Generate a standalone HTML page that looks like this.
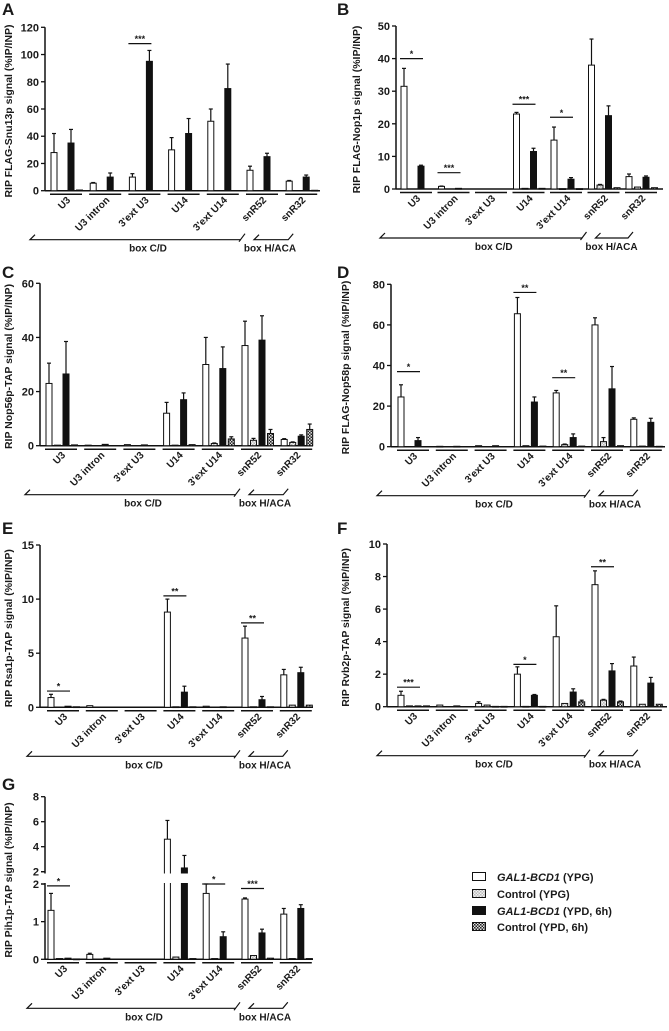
<!DOCTYPE html>
<html><head><meta charset="utf-8"><style>
html,body{margin:0;padding:0;background:#fff}
svg text{font-family:"Liberation Sans",Arial,sans-serif;fill:#1a1a1a}
</style></head><body>
<svg id="fig" width="669" height="1026" viewBox="0 0 669 1026" xmlns="http://www.w3.org/2000/svg">
<defs>
<pattern id="pLight" width="3" height="3" patternUnits="userSpaceOnUse"><rect width="3" height="3" fill="#f2f2f2"/><rect width="1.5" height="1.5" fill="#bbb"/><rect x="1.5" y="1.5" width="1.5" height="1.5" fill="#bbb"/></pattern>
<pattern id="pDark" width="3" height="3" patternUnits="userSpaceOnUse"><rect width="3" height="3" fill="#ddd"/><rect width="1.5" height="1.5" fill="#222"/><rect x="1.5" y="1.5" width="1.5" height="1.5" fill="#222"/></pattern>
</defs>
<g id="legend">
<g><rect x="472.5" y="872.5" width="13" height="8" fill="#fff" stroke="#111"/><text x="497" y="881" font-size="11" font-weight="bold"><tspan font-style="italic">GAL1-BCD1</tspan> (YPG)</text></g>
<g><rect x="472.5" y="889.5" width="13" height="8" fill="url(#pLight)" stroke="#111"/><text x="497" y="898" font-size="11" font-weight="bold">Control (YPG)</text></g>
<g><rect x="472.5" y="906.5" width="13" height="8" fill="#111" stroke="#111"/><text x="497" y="915" font-size="11" font-weight="bold"><tspan font-style="italic">GAL1-BCD1</tspan> (YPD, 6h)</text></g>
<g><rect x="472.5" y="922.5" width="13" height="8" fill="url(#pDark)" stroke="#111"/><text x="497" y="931" font-size="11" font-weight="bold">Control (YPD, 6h)</text></g>
</g>
</svg>
<script>
const categories=["U3","U3 intron","3'ext U3","U14","3'ext U14","snR52","snR32"];
const seriesNames=["gal1-ypg","control-ypg","gal1-ypd","control-ypd"];

const valuesA=[[28,0,35,0.5],[5.5,0,10,0],[10,0,95,0],[30,0,42,0],[51,0,75,0],[15,0,25,0],[7,0,10,0.3]];
const errorsA=[[14,0,10,0],[0.5,0,3,0],[2.5,0,8,0],[9,0,11,0],[9,0,18,0],[3,0,2.5,0],[0.5,0,1.5,0]];
const ticksA=[0,20,40,60,80,100,120];
const sigA=[[2,"***",108]];

const valuesB=[[31.5,0,7,0],[0.8,0,0.2,0],[0,0,0,0],[23,0.2,11.5,0.2],[15,0.1,3,0.1],[38,1.2,22.5,0.4],[3.8,0.6,3.6,0.4]];
const errorsB=[[5.5,0,0.3,0],[0.1,0,0,0],[0,0,0,0],[0.5,0,1,0],[4,0,0.5,0],[8,0.2,3,0],[0.8,0,0.4,0]];
const ticksB=[0,10,20,30,40,50];
const sigB=[[0,"*",40],[1,"***",5],[3,"***",26],[4,"*",22]];

const valuesC=[[23,0.2,26.5,0.3],[0.2,0,0.5,0],[0.4,0,0.3,0],[12,0.2,17,0.4],[30,0.8,28.5,2.5],[37,2,39,4.5],[2.3,1.2,3.5,6]];
const errorsC=[[7.5,0,12,0],[0,0,0,0],[0,0,0,0],[4,0,2.5,0],[10,0.2,8,0.8],[9,0.7,9,1.5],[0.3,0.2,0.5,2]];
const ticksC=[0,20,40,60];
const sigC=[];

const valuesD=[[24.5,0,3,0],[0.2,0,0.2,0],[0.5,0,0.5,0],[65.5,0.5,22,0.3],[26.5,1,4.5,0.3],[60,2.5,28.5,0.5],[13.5,0.3,12,0.2]];
const errorsD=[[6,0,1.5,0],[0,0,0,0],[0,0,0,0],[8,0,2.5,0],[1.2,0.3,1.8,0],[3.5,2,11,0],[0.7,0,2,0]];
const ticksD=[0,20,40,60,80];
const sigD=[[0,"*",37],[3,"**",76],[4,"**",34]];

const valuesE=[[0.9,0,0.1,0.05],[0.15,0,0,0],[0,0,0,0],[8.8,0.05,1.4,0.05],[0.1,0,0.05,0],[6.4,0.05,0.7,0.05],[3,0.2,3.2,0.2]];
const errorsE=[[0.3,0,0,0],[0,0,0,0],[0,0,0,0],[1.2,0,0.55,0],[0,0,0,0],[1.1,0,0.3,0],[0.5,0,0.5,0]];
const ticksE=[0,5,10,15];
const sigE=[[0,"*",1.5],[3,"**",10.3],[5,"**",7.8]];

const valuesF=[[0.7,0.05,0.05,0.05],[0.1,0,0.05,0],[0.2,0.1,0.02,0.02],[2,0.02,0.7,0.02],[4.3,0.2,0.9,0.3],[7.5,0.4,2.2,0.3],[2.5,0.15,1.45,0.15]];
const errorsF=[[0.25,0,0,0],[0,0,0,0],[0.1,0,0,0],[0.45,0,0.05,0],[1.9,0,0.2,0.1],[0.85,0.05,0.45,0.05],[0.55,0,0.35,0]];
const ticksF=[0,2,4,6,8,10];
const sigF=[[0,"***",1.2],[3,"*",2.6],[5,"**",8.6]];

const valuesG=[[1.3,0.02,0.03,0.01],[0.13,0,0.03,0],[0,0,0,0],[4.6,0.06,2.3,0.02],[1.75,0.02,0.6,0],[1.6,0.1,0.7,0.03],[1.2,0.02,1.35,0.02]];
const errorsG=[[0.45,0,0,0],[0.03,0,0,0],[0,0,0,0],[1.5,0,1,0],[0.25,0,0.13,0],[0.03,0,0.1,0],[0.15,0,0.1,0]];
const ticksGLow=[0,1,2];
const ticksGHigh=[2,4,6,8];
const sigG=[[0,"*",1.95],[4,"*",2.0],[5,"***",1.88]];

const NS="http://www.w3.org/2000/svg";
const svg=document.getElementById('fig');
function mk(tag,attrs,parent){const e=document.createElementNS(NS,tag);for(const k in attrs)e.setAttribute(k,attrs[k]);(parent||svg).appendChild(e);return e;}
const fills=["#fff","url(#pLight)","#111","url(#pDark)"];

const panels=[
 {id:"A",lx:2,ly:15,ax:45,zero:190.7,top:27.3,max:120,g0:50,step:39.2,end:320,tx:12,title:"RIP FLAG-Snu13p signal (%IP/INP)",vals:valuesA,errs:errorsA,ticks:ticksA,sig:sigA},
 {id:"B",lx:337,ly:15,ax:396,zero:189,top:26,max:50,g0:400,step:37.5,end:663,tx:360,title:"RIP FLAG-Nop1p signal (%IP/INP)",vals:valuesB,errs:errorsB,ticks:ticksB,sig:sigB},
 {id:"C",lx:2,ly:278,ax:40,zero:445.7,top:283.3,max:60,g0:45,step:39.2,end:313,tx:12,title:"RIP Nop56p-TAP signal (%IP/INP)",vals:valuesC,errs:errorsC,ticks:ticksC,sig:sigC},
 {id:"D",lx:337,ly:278,ax:391,zero:446.7,top:284.3,max:80,g0:397,step:38.8,end:665,tx:349,title:"RIP FLAG-Nop58p signal (%IP/INP)",vals:valuesD,errs:errorsD,ticks:ticksD,sig:sigD},
 {id:"E",lx:2,ly:534,ax:40,zero:707.3,top:545,max:15,g0:47,step:38.8,end:313,tx:12,title:"RIP Rsa1p-TAP signal (%IP/INP)",vals:valuesE,errs:errorsE,ticks:ticksE,sig:sigE},
 {id:"F",lx:337,ly:534,ax:387,zero:706.7,top:544,max:10,g0:397,step:38.8,end:667,tx:349,title:"RIP Rvb2p-TAP signal (%IP/INP)",vals:valuesF,errs:errorsF,ticks:ticksF,sig:sigF},
 {id:"G",lx:2,ly:790,ax:45,zero:959.3,top:796.7,max:8,g0:47,step:38.8,end:313,tx:12,title:"RIP Pih1p-TAP signal (%IP/INP)",vals:valuesG,errs:errorsG,ticks:null,sig:sigG,broken:true}
];

panels.forEach(p=>{
 const g=mk('g',{});
 
 
 let y;
 if(p.broken){
  const lowTop=884, upBase=871.7, upPer=(upBase-p.top)/6, lowPer=(p.zero-lowTop)/2;
  y=v=>v<=2?p.zero-v*lowPer:upBase-(v-2)*upPer;
 } else y=v=>p.zero-v/p.max*(p.zero-p.top);
 const L=mk('text',{x:p.lx,y:p.ly,'font-size':17,'font-weight':'bold'},g);L.textContent=p.id;
 
 
 const cy=(p.zero+p.top)/2+2;
 const T=mk('text',{x:p.tx,y:cy,'font-size':10.5,'font-weight':'bold','text-anchor':'middle',transform:`rotate(-90 ${p.tx} ${cy})`},g);T.textContent=p.title;
 
 
 const ya=mk('line',{x1:p.ax,y1:p.top,x2:p.ax,y2:p.zero,stroke:'#111','stroke-width':1.5},g);
 
 
 const xa=mk('line',{x1:p.ax,y1:p.zero,x2:p.end,y2:p.zero,stroke:'#111','stroke-width':1.5},g);
 
 
 const tickList=p.broken?ticksGLow.map(v=>[v,y(v)]).concat(ticksGHigh.map(v=>[v,871.7-(v-2)*(871.7-p.top)/6])):p.ticks.map(v=>[v,y(v)]);
 tickList.forEach(([v,ty])=>{
  mk('line',{x1:p.ax-4,y1:ty,x2:p.ax,y2:ty,stroke:'#111','stroke-width':1.3},g);
  const t=mk('text',{x:p.ax-6,y:ty+4,'font-size':11,'font-weight':'bold','text-anchor':'end'},g);t.textContent=v;
  
  
 });
 categories.forEach((c,i)=>{
  const gx=p.g0+i*p.step;
  p.vals[i].forEach((v,s)=>{
   if(v<=0) return;
   const bx=gx+1+s*8.5, top=y(v);
   const r=mk('rect',{x:bx,y:top,width:6,height:Math.max(p.zero-top,0.8),fill:fills[s],stroke:'#111','stroke-width':1},g);
   
   
   const e=p.errs[i][s];
   if(e>0){const et=y(v+e);
    mk('line',{x1:bx+3,y1:top,x2:bx+3,y2:et,stroke:'#111','stroke-width':1.2},g);
    mk('line',{x1:bx+1,y1:et,x2:bx+5,y2:et,stroke:'#111','stroke-width':1.2},g);}
  });
  mk('line',{x1:gx,y1:p.zero+3.5,x2:gx+32,y2:p.zero+3.5,stroke:'#111','stroke-width':1.5},g);
  const ax=gx+21, ay=p.zero+10;
  const lb=mk('text',{x:ax,y:ay,'font-size':10,'font-weight':'bold','text-anchor':'end',transform:`rotate(-45 ${ax} ${ay})`},g);lb.textContent=c;
  
  
 });
 if(p.broken){
  mk('rect',{x:p.ax-2,y:873.5,width:p.end-p.ax+4,height:9.5,fill:'#fff'},g);
  mk('line',{x1:p.ax-4,y1:871.7,x2:p.ax,y2:871.7,stroke:'#111','stroke-width':1.3},g);
  mk('line',{x1:p.ax-4,y1:884,x2:p.ax,y2:884,stroke:'#111','stroke-width':1.3},g);
 }
 p.sig.forEach(([gi,lab,v])=>{
  const gx=p.g0+gi*p.step, sy=y(v);
  const sl=mk('line',{x1:gx,y1:sy,x2:gx+23,y2:sy,stroke:'#111','stroke-width':1.2},g);
  
  
  const st=mk('text',{x:gx+11.5,y:sy-1.5,'font-size':9,'font-weight':'bold','text-anchor':'middle'},g);st.textContent=lab;
  
  
 });
 const by=p.zero+49, g0=p.g0, g5=p.g0+5*p.step, g6=p.g0+6*p.step;
 const b1=mk('polyline',{points:`${g0-15},${by-5} ${g0-20},${by} ${g5-5},${by}`,fill:'none',stroke:'#111','stroke-width':1.2},g);
 
 
 mk('line',{x1:g5-7,y1:by+2,x2:g5-1,y2:by-6,stroke:'#111','stroke-width':1.2},g);
 const b2=mk('polyline',{points:`${g5+13},${by-5} ${g5+8},${by} ${g6+3},${by} ${g6+8},${by-6}`,fill:'none',stroke:'#111','stroke-width':1.2},g);
 
 
 const t1=mk('text',{x:(g0+g5)/2,y:by+12,'font-size':10,'font-weight':'bold','text-anchor':'middle'},g);t1.textContent='box C/D';
 
 
 const t2=mk('text',{x:g5+24,y:by+12,'font-size':10,'font-weight':'bold','text-anchor':'middle'},g);t2.textContent='box H/ACA';
 
 
});
</script>
</body></html>
